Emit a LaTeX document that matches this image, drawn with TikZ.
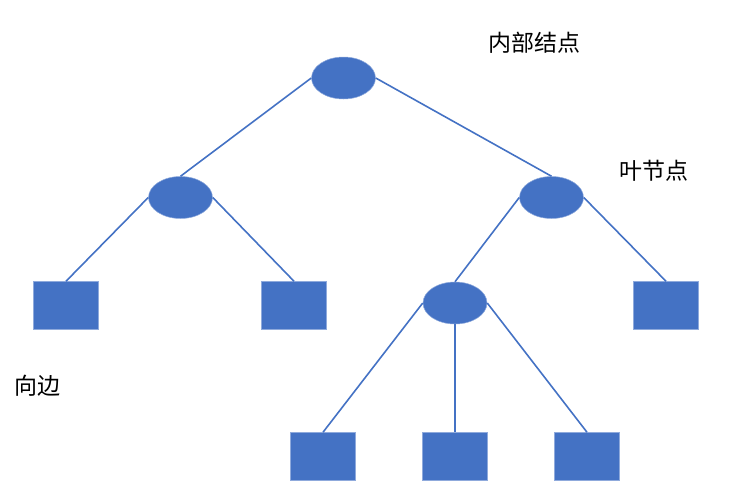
\documentclass[tikz,border=0pt]{standalone}
\usepackage{fontspec}
\usetikzlibrary{shapes.geometric}
\newfontfamily\cjk{Noto Sans CJK SC}
\definecolor{obl}{HTML}{4472C4}
\definecolor{obledge}{HTML}{8FAADC}
\begin{document}
\begin{tikzpicture}[x=1pt,y=-1pt,
  innode/.style={ellipse,fill=obl,draw=obledge,line width=0.5pt,minimum width=64pt,minimum height=42pt,inner sep=0pt},
  leafnode/.style={rectangle,fill=obl,draw=obledge,line width=0.5pt,minimum width=65pt,minimum height=48pt,inner sep=0pt},
  link/.style={draw=obl,line width=1.6pt},
  lbl/.style={font=\cjk\fontsize{23}{26}\selectfont,inner sep=0pt,text=black}]
\useasboundingbox (0,0) rectangle (735,496);
\node[innode] (r) at (343.5,78) {};
\node[innode] (a) at (180.5,197.5) {};
\node[innode] (b) at (551.5,197.5) {};
\node[innode] (c) at (455,303) {};
\node[leafnode] (s1) at (66,305.5) {};
\node[leafnode] (s2) at (294,305.5) {};
\node[leafnode] (s3) at (666,305.5) {};
\node[leafnode] (t1) at (323,456.5) {};
\node[leafnode] (t2) at (455,456.5) {};
\node[leafnode] (t3) at (587,456.5) {};
\draw[link] (r.west) -- (a.north);
\draw[link] (r.east) -- (b.north);
\draw[link] (a.west) -- (s1.north);
\draw[link] (a.east) -- (s2.north);
\draw[link] (b.west) -- (c.north);
\draw[link] (b.east) -- (s3.north);
\draw[link] (c.west) -- (t1.north);
\draw[link] (c.south) -- (t2.north);
\draw[link] (c.east) -- (t3.north);
\node[lbl] (l1) at (534.5,42.5) {内部结点};
\node[lbl] (l2) at (653.5,171) {叶节点};
\node[lbl] (l3) at (37.5,386) {向边};
\end{tikzpicture}
\end{document}
